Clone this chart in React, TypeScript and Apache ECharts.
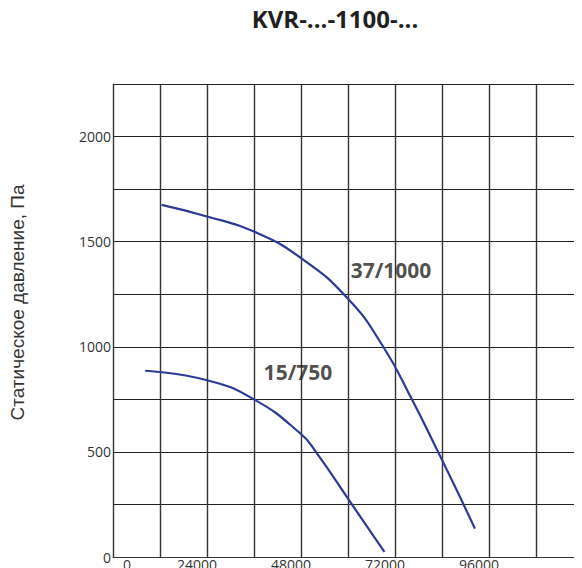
import React, { useEffect, useRef } from "react";
import * as echarts from "echarts";

const titleText = "KVR-...-1100-...";
const yAxisName = "Статическое давление, Па";
const xLabelValues = [0, 24000, 48000, 72000, 96000];
const yLabelValues = [0, 500, 1000, 1500, 2000];

const curve37Name = "37/1000";
const curve37: [number, number][] = [
  [12400, 1675], [24000, 1620], [36000, 1548], [48000, 1422], [60000, 1228],
  [69000, 1000], [76300, 750], [83000, 500], [89500, 250], [92400, 135],
];
const curve15Name = "15/750";
const curve15: [number, number][] = [
  [8200, 886], [24000, 841], [36000, 750], [48000, 585], [51800, 500], [61000, 250], [69300, 24],
];
const curveLabels: { name: string; value: [number, number] }[] = [
  { name: curve37Name, value: [70980, 1363] },
  { name: curve15Name, value: [47230, 880] },
];

export default function App() {
  const ref = useRef<HTMLDivElement>(null);
  useEffect(() => {
    document.body.style.overflow = "hidden";
    const chart = echarts.init(ref.current!, null, { renderer: "svg" });
    const lineColor = "#2b3a97";
    const gridColor = "#333";
    chart.setOption({
      animation: false,
      textStyle: { fontFamily: "Open Sans" },
      title: {
        text: titleText,
        left: 322,
        top: -7,
        textAlign: "center",
        textStyle: { fontFamily: "Open Sans", fontWeight: "bold", fontSize: 24, color: "#231f20" },
      },
      grid: { left: 105, top: 76, right: -1, bottom: 11, containLabel: false, outerBoundsMode: "none" },
      xAxis: {
        type: "value",
        min: 0,
        max: 120000,
        interval: 12000,
        axisLine: { show: true, lineStyle: { color: gridColor, width: 1 } },
        axisTick: { show: false },
        splitLine: { show: true, lineStyle: { color: gridColor, width: 1.4 } },
        axisLabel: {
          margin: 0,
          fontSize: 14,
          lineHeight: 14,
          color: "#333",
          fontFamily: "Open Sans",
          formatter: (v: number) => {
            if (!xLabelValues.includes(v)) return "";
            return v === 0 ? `{z|${v}}` : `{n|${v}}`;
          },
          rich: {
            z: { padding: [0, 0, 0, 28], fontSize: 14, lineHeight: 14, color: "#333", fontFamily: "Open Sans" },
            n: { padding: [0, 20, 0, 0], fontSize: 14, lineHeight: 14, color: "#333", fontFamily: "Open Sans" },
          },
        },
      },
      yAxis: {
        type: "value",
        min: 0,
        max: 2250,
        interval: 250,
        name: yAxisName,
        nameLocation: "middle",
        nameGap: 86,
        nameTextStyle: { fontFamily: "Liberation Sans", fontSize: 19, color: "#333", padding: [0, 0, 0, 36] },
        axisLine: { show: true, lineStyle: { color: gridColor, width: 1 } },
        axisTick: { show: false },
        splitLine: { show: true, lineStyle: { color: "#222", width: 1 } },
        axisLabel: {
          margin: 2,
          fontSize: 14,
          color: "#333",
          fontFamily: "Open Sans",
          formatter: (v: number) => (yLabelValues.includes(v) ? String(v) : ""),
        },
      },
      series: [
        {
          name: curve37Name,
          type: "line",
          data: curve37,
          smooth: 0.5,
          showSymbol: false,
          lineStyle: { color: lineColor, width: 2.2 },
        },
        {
          name: curve15Name,
          type: "line",
          data: curve15,
          smooth: 0.5,
          showSymbol: false,
          lineStyle: { color: lineColor, width: 2.2 },
        },
        {
          type: "scatter",
          data: curveLabels,
          symbolSize: 0,
          label: {
            show: true,
            position: "inside",
            formatter: (p: any) => p.name,
            fontFamily: "Open Sans",
            fontWeight: "bold",
            fontSize: 21,
            color: "#231f20",
          },
        },
      ],
    });
    return () => chart.dispose();
  }, []);
  return <div ref={ref} style={{ width: 574, height: 560 }} />;
}
